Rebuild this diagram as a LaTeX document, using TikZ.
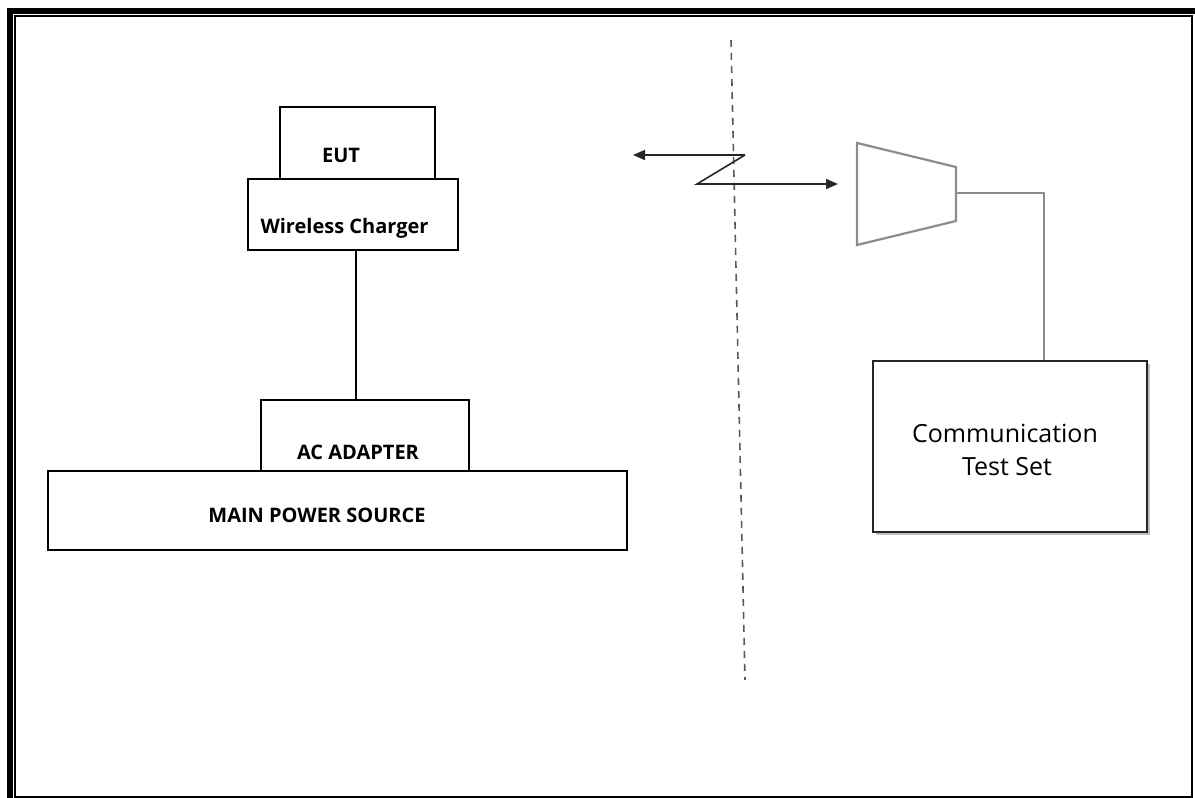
\documentclass[tikz,border=0pt]{standalone}
\usepackage{fontspec}
\setmainfont{Open Sans}
\usetikzlibrary{arrows.meta}
\begin{document}
\begin{tikzpicture}[x=1pt,y=-1pt,
  box/.style={draw=black,line width=2.5pt,rectangle,inner sep=0pt,fill=white},
  lbl/.style={inner sep=0pt,anchor=base,font=\bfseries\fontsize{20}{24}\selectfont},
  clbl/.style={inner sep=0pt,anchor=base,font=\fontsize{25}{28}\selectfont},
  conn/.style={draw=black,line width=2.5pt},
  radio/.style={draw=black!85,line width=1.6pt,-{Triangle[length=12pt,width=10pt]}},
  horn/.style={draw=black!45,line width=2.2pt,line join=miter},
  feed/.style={draw=black!45,line width=1.6pt},
  bound/.style={draw=black!65,line width=1.6pt,dash pattern=on 7pt off 6pt}
]
\useasboundingbox (0,0) rectangle (1195,798);
% frame
\fill[black] (7,8) rectangle (1195,14);
\fill[black] (7,8) rectangle (13,798);
\draw[line width=2pt] (15,16) rectangle (1192,797);

% left set-up
\node[box,minimum width=155pt,minimum height=72pt] (eut) at (357.5,143) {};
\node[box,minimum width=210pt,minimum height=71pt] (wc) at (353,214.5) {};
\node[box,minimum width=208pt,minimum height=71pt] (ac) at (365,435.5) {};
\node[box,minimum width=579pt,minimum height=79pt] (mps) at (337.5,510.5) {};
\node[lbl] (eutl) at (341,162) {EUT};
\node[lbl] (wcl) at (344.5,233) {Wireless Charger};
\node[lbl] (acl) at (358,459) {AC ADAPTER};
\node[lbl] (mpsl) at (317,522) {MAIN POWER SOURCE};
\draw[conn] (wc.south -| 356,0) -- (ac.north -| 356,0);

% boundary
\coordinate (btop) at (731,40);
\coordinate (bbot) at (745,680);
\draw[bound] (btop) -- (bbot);

% radio link
\coordinate (zz1) at (745,155);
\coordinate (zz2) at (697,184);
\coordinate (ltip) at (633,155);
\coordinate (rtip) at (838,184);
\draw[radio] (zz1) -- (ltip);
\draw[radio] (zz1) -- (zz2) -- (rtip);

% horn antenna
\draw[horn] (857,143) -- (956,167) -- (956,221) -- (857,245) -- cycle;
\coordinate (hornout) at (956,193);

% communication test set
\fill[black!25] (876,364) rectangle (1150,535);
\node[draw=black!85,line width=1.6pt,fill=white,rectangle,inner sep=0pt,minimum width=274pt,minimum height=171pt] (comm) at (1010,446.5) {};
\node[clbl] (comml1) at (1005,442) {Communication};
\node[clbl] (comml2) at (1007,475) {Test Set};
\draw[feed] (hornout) -| (comm.north -| 1044,0);
\end{tikzpicture}
\end{document}
